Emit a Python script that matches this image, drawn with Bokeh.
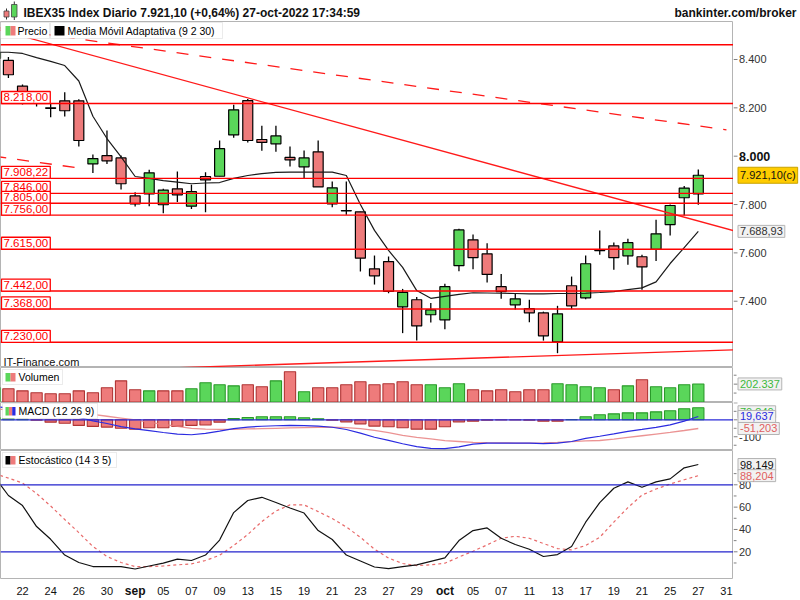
import numpy as np
from bokeh.plotting import figure
from bokeh.layouts import column, row
from bokeh.models import Range1d, Span, Label, BoxAnnotation
from bokeh.core.properties import value
from bokeh.embed import file_html
from bokeh.resources import INLINE

FONT = "Liberation Sans"

# ---------------- data ----------------
sessions = ["2022-08-18", "2022-08-19", "2022-08-22", "2022-08-23", "2022-08-24", "2022-08-25", "2022-08-26",
            "2022-08-29", "2022-08-30", "2022-08-31", "2022-09-01", "2022-09-02", "2022-09-05", "2022-09-06",
            "2022-09-07", "2022-09-08", "2022-09-09", "2022-09-12", "2022-09-13", "2022-09-14", "2022-09-15",
            "2022-09-16", "2022-09-19", "2022-09-20", "2022-09-21", "2022-09-22", "2022-09-23", "2022-09-26",
            "2022-09-27", "2022-09-28", "2022-09-29", "2022-09-30", "2022-10-03", "2022-10-04", "2022-10-05",
            "2022-10-06", "2022-10-07", "2022-10-10", "2022-10-11", "2022-10-12", "2022-10-13", "2022-10-14",
            "2022-10-17", "2022-10-18", "2022-10-19", "2022-10-20", "2022-10-21", "2022-10-24", "2022-10-25",
            "2022-10-26", "2022-10-27", "2022-10-28", "2022-10-31", "2022-11-01"]
n_data = 51  # Aug 18 .. Oct 27

open_ = [8405, 8396, 8290, 8245, 8200, 8229, 8229, 7968, 8002, 7993, 7836, 7844, 7799, 7865, 7793, 7916, 7917,
         8088, 8230, 8069, 8051, 7995, 7956, 8018, 7803, 7774, 7770, 7534, 7564, 7377, 7406, 7344, 7323, 7547,
         7654, 7596, 7460, 7385, 7369, 7352, 7232, 7464, 7414, 7610, 7629, 7588, 7584, 7615, 7717, 7828, 7844]
high = [8440, 8410, 8297, 8262, 8218, 8265, 8236, 8007, 8106, 8003, 7851, 7944, 7865, 7937, 7882, 7934, 8065,
        8213, 8237, 8126, 8126, 8040, 8024, 8065, 7895, 7895, 7770, 7589, 7585, 7451, 7417, 7393, 7472, 7700,
        7676, 7640, 7513, 7431, 7406, 7357, 7381, 7502, 7589, 7693, 7643, 7658, 7592, 7737, 7800, 7877, 7945]
low = [8390, 8323, 8214, 8206, 8161, 8164, 8040, 7930, 7968, 7862, 7792, 7793, 7764, 7810, 7782, 7768, 7917,
       8076, 8057, 8022, 8018, 7957, 7909, 7873, 7789, 7758, 7523, 7469, 7433, 7268, 7237, 7312, 7284, 7524,
       7532, 7477, 7410, 7366, 7313, 7237, 7185, 7367, 7408, 7592, 7530, 7551, 7447, 7566, 7672, 7755, 7799]
close = [8430, 8337, 8240, 8232, 8198, 8188, 8065, 7990, 7981, 7886, 7803, 7931, 7860, 7840, 7853, 7902, 8031,
         8192, 8065, 8057, 8084, 7985, 7993, 7873, 7869, 7775, 7578, 7505, 7441, 7437, 7298, 7364, 7460, 7695,
         7580, 7511, 7440, 7410, 7352, 7257, 7348, 7381, 7555, 7609, 7580, 7642, 7542, 7679, 7796, 7868, 7921.1]
ama = [8430, 8430, 8425, 8408, 8392, 8375, 8311, 8165, 8073, 7997, 7916, 7908, 7899, 7893, 7886, 7889, 7891,
       7908, 7920, 7928, 7933, 7934, 7934, 7934, 7934, 7920, 7800, 7693, 7610, 7540, 7444, 7412, 7420, 7428,
       7435, 7434, 7433, 7432, 7430, 7430, 7432, 7432, 7433, 7436, 7440, 7448, 7455, 7480, 7556, 7622, 7688.93]
volume = [160000, 148000, 125000, 103000, 92000, 92000, 125000, 103000, 159000, 237000, 137000, 125000, 125000,
          125000, 148000, 215000, 193000, 181000, 193000, 170000, 237000, 338000, 114000, 159000, 159000, 193000,
          226000, 193000, 204000, 226000, 193000, 193000, 159000, 204000, 137000, 125000, 137000, 114000, 137000,
          137000, 204000, 193000, 170000, 159000, 137000, 181000, 249000, 170000, 159000, 193000, 202337]
macd = [78, 70, 62, 52, 42, 30, 14, -6, -22, -40, -54, -64, -75, -85, -88, -80, -67, -52, -43, -38, -35, -33,
        -34, -37, -44, -57, -79, -103, -121, -141, -158, -168, -170, -160, -143, -137, -137, -138, -138, -140,
        -137, -128, -110, -97, -83, -68, -57, -45, -30, -8, 19.637]
signal = [62, 62, 62, 60, 56, 50, 42, 32, 21, 10, -1, -15, -27, -39, -50, -55, -56, -56, -54, -52, -50, -48,
          -46, -44, -44, -46, -52, -62, -76, -92, -104, -113, -123, -128, -133, -135, -136, -137, -138, -136,
          -133, -129, -124, -122, -114, -104, -94, -84, -74, -63, -51.203]
hist = [12, 8, 3, -2, -14, -20, -33, -39, -43, -50, -55, -47, -47, -39, -33, -31, -14, 8, 14, 18, 18, 18, 12, 6,
        -2, -12, -24, -37, -41, -47, -55, -55, -41, -12, -8, -2, -1, -1, -2, -8, -8, 1, 18, 30, 35, 41, 41, 47,
        53, 65, 70.84]
stoch_k = [87.4, 70.4, 61.4, 42.6, 31.2, 17.1, 10.4, 6.8, 6.8, 6.8, 4.6, 7.3, 9.8, 13.5, 12.2, 17.1, 30.5, 55.1,
           65.9, 68.8, 64.1, 59.2, 54.7, 39.0, 31.0, 17.1, 11.7, 6.4, 5.0, 6.8, 8.3, 11.5, 14.6, 30.1, 39.0, 41.4,
           32.1, 26.5, 22.3, 15.8, 17.5, 24.7, 46.5, 64.1, 76.9, 82.6, 77.8, 82.6, 85.3, 95.2, 98.149]
stoch_d = [90, 86, 81.6, 72.2, 61, 48.9, 37.2, 24.7, 15.8, 10.4, 6.8, 6.8, 7.3, 8.3, 9.2, 12.2, 16.9, 25.6, 35.5,
           47.1, 56.5, 62, 62, 56, 49.8, 42.2, 33, 22.3, 14.4, 9.5, 7.7, 8.3, 9.8, 15.3, 20.5, 26.2, 32.1, 33.9,
           32.1, 27.4, 22.9, 21.8, 25.6, 33, 46.6, 59.6, 70.8, 76.2, 80.7, 84.5, 88.204]

levels = [8461, 8218, 7908.22, 7846, 7805, 7756, 7615, 7442, 7368, 7230]
level_labels = ["", "8.218,00", "7.908,22", "7.846,00", "7.805,00", "7.756,00", "7.615,00", "7.442,00",
                "7.368,00", "7.230,00"]

trend_solid_dates = ["2022-08-18", "2022-11-01"]
trend_solid_prices = [8528, 7684]
trend_dash_dates = ["2022-08-18", "2022-10-31"]
trend_dash_prices = [8534, 8109]
trend_chan_dates = ["2022-08-18", "2022-08-26"]
trend_chan_prices = [8000, 7951]
trend_up_dates = ["2022-09-05", "2022-11-01"]
trend_up_prices = [7123, 7200]

tick_dates = ["2022-08-22", "2022-08-24", "2022-08-26", "2022-08-30", "2022-09-01", "2022-09-05", "2022-09-07",
              "2022-09-09", "2022-09-13", "2022-09-15", "2022-09-19", "2022-09-21", "2022-09-23", "2022-09-27",
              "2022-09-29", "2022-10-03", "2022-10-05", "2022-10-07", "2022-10-11", "2022-10-13", "2022-10-17",
              "2022-10-19", "2022-10-21", "2022-10-25", "2022-10-27", "2022-10-31"]
tick_labels = ["22", "24", "26", "30", "sep", "05", "07", "09", "13", "15", "19", "21", "23", "27", "29", "oct",
               "05", "07", "11", "13", "17", "19", "21", "25", "27", "31"]
month_labels = {"sep", "oct"}

price_ticks = [7400, 7600, 7800, 8000, 8200, 8400]
price_tick_labels = ["7.400", "7.600", "7.800", "8.000", "8.200", "8.400"]
price_bold_tick = 8000
vol_ticks, vol_tick_labels, vol_minor = [200000], ["200.000"], [100000, 300000]
macd_ticks, macd_tick_labels, macd_minor = [-100, 0, 100], ["-100", "", ""], [-150, -50, 50]
stoch_ticks, stoch_tick_labels, stoch_minor = [20, 40, 60, 80], ["20", "40", "60", "80"], [10, 30, 50, 70, 90]

# ---------------- helpers ----------------
pos = {d: i for i, d in enumerate(sessions)}
x = np.arange(n_data)
o = np.array(open_); c = np.array(close)
GREEN = "#5AD65A"; RED = "#EE7B7B"
GREEN_D = "#2A9A2A"; RED_D = "#B03434"
candle_col = [GREEN if cc >= oo else RED for oo, cc in zip(o, c)]
prev_c = np.concatenate([[c[0]], c[:-1]])
vol_up = c >= prev_c
vol_fill = [GREEN if u else RED for u in vol_up]
vol_line = [GREEN_D if u else RED_D for u in vol_up]

MAIN_W, SIDE_W = 733, 67
X0 = 0.4375
SCALE = 52.0625 / MAIN_W          # sessions per pixel
xr = Range1d(X0, X0 + MAIN_W * SCALE)
OUTLINE = "#B4B4B4"


def blank_fig(w, h, xrng, yrng):
    p = figure(width=w, height=h, x_range=xrng, y_range=yrng, output_backend="svg", toolbar_location=None,
               min_border=0, min_border_left=0, min_border_right=0, min_border_top=0, min_border_bottom=0,
               x_axis_location=None, y_axis_location=None)
    p.xgrid.visible = False
    p.ygrid.visible = False
    p.background_fill_color = "white"
    p.border_fill_color = "white"
    p.outline_line_color = None
    return p


def main_fig(h, yr):
    p = blank_fig(MAIN_W, h, xr, yr)
    p.outline_line_color = OUTLINE
    return p


def side_fig(h, yr, ticks, labels, minor=(), bold=None):
    s = blank_fig(SIDE_W, h, Range1d(0, SIDE_W), yr)
    s.segment(x0=0, y0=ticks, x1=4, y1=ticks, color="#808080", line_width=1)
    if len(minor):
        s.segment(x0=0, y0=list(minor), x1=3, y1=list(minor), color="#808080", line_width=1)
    nt = [t for t, lb in zip(ticks, labels) if t != bold and lb]
    nl = [lb for t, lb in zip(ticks, labels) if t != bold and lb]
    s.text(x=[5.5] * len(nt), y=nt, text=nl, text_font=value(FONT), text_font_size="11px",
           text_color="#333333", text_baseline="middle", text_align="left")
    if bold is not None:
        bl = [lb for t, lb in zip(ticks, labels) if t == bold]
        s.text(x=[5.5], y=[bold], text=bl, text_font=value(FONT), text_font_size="12.5px",
               text_font_style="bold", text_color="#111111", text_baseline="middle", text_align="left")
    return s


def value_box(s, yv, text, color, bg="#F2F2F2", border="#B4B4B4", dy=0):
    s.add_layout(Label(x=4.5, y=yv, x_units="data", y_units="data", y_offset=dy, text=text, text_font=FONT,
                       text_font_size="11px", text_color=color, text_align="left", text_baseline="middle",
                       background_fill_color=bg, border_line_color=border, padding=2))


def legend_box(p, frame_h, page_top, x0, x1, y0, y1, icons, text, tx):
    p.add_layout(BoxAnnotation(left=x0, right=x1, top=frame_h - (y0 - page_top), bottom=frame_h - (y1 - page_top),
                               left_units="screen", right_units="screen", top_units="screen",
                               bottom_units="screen", fill_color="white", fill_alpha=1,
                               line_color="#BDBDBD", line_width=1, level="overlay"))
    for (ix0, ix1, col) in icons:
        p.add_layout(BoxAnnotation(left=ix0, right=ix1, top=frame_h - (y0 + 3.5 - page_top),
                                   bottom=frame_h - (y1 - 3 - page_top),
                                   left_units="screen", right_units="screen", top_units="screen",
                                   bottom_units="screen", fill_color=col, fill_alpha=1, line_alpha=0,
                                   level="overlay"))
    p.add_layout(Label(x=tx, y=frame_h - ((y0 + y1) / 2 - page_top), x_units="screen", y_units="screen",
                       text=text, text_font=FONT, text_font_size="10.5px", text_color="black",
                       text_baseline="middle", text_align="left", level="overlay"))


# ---------------- title bar ----------------
TH = 21
pt = blank_fig(800, TH, Range1d(0, 800), Range1d(0, TH))
pt.text(x=[23], y=[TH - 12], text=["IBEX35 Index Diario 7.921,10 (+0,64%) 27-oct-2022 17:34:59"],
        text_font=value(FONT), text_font_size="12px", text_font_style="bold", text_color="#111111",
        text_baseline="middle", text_align="left")
pt.text(x=[796], y=[TH - 12], text=["bankinter.com/broker"], text_font=value(FONT), text_font_size="12px",
        text_font_style="bold", text_color="#111111", text_baseline="middle", text_align="right")
pt.segment(x0=[6, 13.8], y0=[TH - 8, TH - 1], x1=[6, 13.8], y1=[TH - 19, TH - 19.5], color="#333333",
           line_width=1)
pt.quad(left=[3.5, 11], right=[8.5, 16.5], top=[TH - 10.5, TH - 4], bottom=[TH - 16.5, TH - 16.5],
        fill_color=[RED, GREEN], line_color="#444444", line_width=0.8)

# ---------------- price panel ----------------
PT, PB = 21, 367
FH = PB - PT
py = Range1d(7125.8, 8557.2)
pp = main_fig(FH, py)
pp.segment(x, high, x, low, color="black", line_width=1.3)
pp.vbar(x=x, width=0.71, top=o, bottom=c, fill_color=candle_col, line_color="black", line_width=1.2)
pp.line(x, ama, color="#1A1A1A", line_width=1.2)

for lv in levels:
    pp.add_layout(Span(location=lv, dimension="width", line_color="#FF0000", line_width=1.4))
for (dts, prs, dash) in [(trend_solid_dates, trend_solid_prices, "solid"),
                         (trend_dash_dates, trend_dash_prices, "12 11"),
                         (trend_chan_dates, trend_chan_prices, "12 11"),
                         (trend_up_dates, trend_up_prices, "solid")]:
    pp.line([pos[d] for d in dts], prs, color="#FF1A1A", line_width=1.3, line_dash=dash)

for lv, lt in zip(levels, level_labels):
    if lt:
        pp.add_layout(Label(x=1, y=lv, x_units="screen", y_units="data", text=lt, text_font=FONT,
                            text_font_size="11.5px", text_color="#FF0000", text_align="left",
                            text_baseline="bottom", background_fill_color="white", border_line_color="#FF0000",
                            border_line_width=1.3, padding=2))

pp.add_layout(Label(x=3, y=FH - (361 - PT), x_units="screen", y_units="screen", text="IT-Finance.com",
                    text_font=FONT, text_font_size="11px", text_color="#111111", text_baseline="middle"))
legend_box(pp, FH, PT, 0, 49, 22, 38, [(5, 10, GREEN), (10, 15, RED)], "Precio", 17)
legend_box(pp, FH, PT, 50, 222, 22, 38, [(54, 64, "#000000")], "Media Móvil Adaptativa (9 2 30)", 67)

sp = side_fig(FH, py, price_ticks, price_tick_labels, bold=price_bold_tick)
value_box(sp, close[-1], "7.921,10(c)", "#111111", bg="#FFCC00", border="#C8A200")
value_box(sp, ama[-1], "7.688,93", "#333333")

# ---------------- volume panel ----------------
VT, VB = 367, 402
vy = Range1d(-5600, 386400)
pv = main_fig(VB - VT, vy)
pv.vbar(x=x, width=0.8, top=volume, bottom=0, fill_color=vol_fill, line_color=vol_line, line_width=1.1)
legend_box(pv, VB - VT, VT, 2, 62, 369, 384, [(5, 10, GREEN), (10, 15, RED)], "Volumen", 18)
sv = side_fig(VB - VT, vy, vol_ticks, vol_tick_labels, vol_minor)
value_box(sv, volume[-1], "202.337", "#3CB83C")

# ---------------- MACD panel ----------------
MT, MB = 402, 450
my = Range1d(-181, 102)
pm = main_fig(MB - MT, my)
hist_fill = [GREEN if v >= 0 else RED for v in hist]
hist_line = [GREEN_D if v >= 0 else RED_D for v in hist]
pm.vbar(x=x, width=0.8, top=hist, bottom=0, fill_color=hist_fill, line_color=hist_line, line_width=1.1)
pm.add_layout(Span(location=0, dimension="width", line_color="#2B2BD8", line_width=1.2))
pm.line(x, signal, color="#E88080", line_width=1.3, line_alpha=0.85)
pm.line(x, macd, color="#2B2BE0", line_width=1.2)
legend_box(pm, MB - MT, MT, 2, 97, 403, 418, [(5, 8.4, GREEN), (8.4, 11.7, RED), (11.7, 15, "#2B2BE0")],
           "MACD (12 26 9)", 18)
sm = side_fig(MB - MT, my, macd_ticks, macd_tick_labels, macd_minor)
value_box(sm, hist[-1], "70,840", "#3CB83C", dy=-4)
value_box(sm, macd[-1], "19,637", "#2B2BE0")
value_box(sm, signal[-1], "-51,203", "#E06060")

# ---------------- stochastic panel ----------------
ST, SB = 450, 579
sy = Range1d(-4.8, 110.7)
ps = main_fig(SB - ST, sy)
for lv in (80, 20):
    ps.add_layout(Span(location=lv, dimension="width", line_color="#2323CC", line_width=1.2))
ps.line(x, stoch_d, color="#E86A6A", line_width=1.2, line_dash="3 3")
ps.line(x, stoch_k, color="#111111", line_width=1.2)
legend_box(ps, SB - ST, ST, 2, 116, 452, 467, [(5, 10, "#000000"), (10, 15, RED)], "Estocástico (14 3 5)", 18)
ss = side_fig(SB - ST, sy, stoch_ticks, stoch_tick_labels, stoch_minor)
value_box(ss, stoch_k[-1], "98,149", "#111111")
value_box(ss, stoch_d[-1], "88,204", "#E06060")

# ---------------- date axis ----------------
DH = 600 - SB
pdx = blank_fig(800, DH, Range1d(X0, X0 + 800 * SCALE), Range1d(0, DH))
norm = [(pos[d], s) for d, s in zip(tick_dates, tick_labels) if s not in month_labels]
bold = [(pos[d], s) for d, s in zip(tick_dates, tick_labels) if s in month_labels]
pdx.text(x=[t for t, _ in norm], y=[DH - 11] * len(norm), text=[s for _, s in norm], text_font=value(FONT),
         text_font_size="11px", text_color="#111111", text_align="center", text_baseline="middle")
pdx.text(x=[t for t, _ in bold], y=[DH - 11] * len(bold), text=[s for _, s in bold], text_font=value(FONT),
         text_font_size="12px", text_font_style="bold", text_color="#111111", text_align="center",
         text_baseline="middle")

layout = column(pt, row(pp, sp, spacing=0), row(pv, sv, spacing=0), row(pm, sm, spacing=0),
                row(ps, ss, spacing=0), pdx, spacing=0)
open("out.html", "w").write(file_html(layout, INLINE))
